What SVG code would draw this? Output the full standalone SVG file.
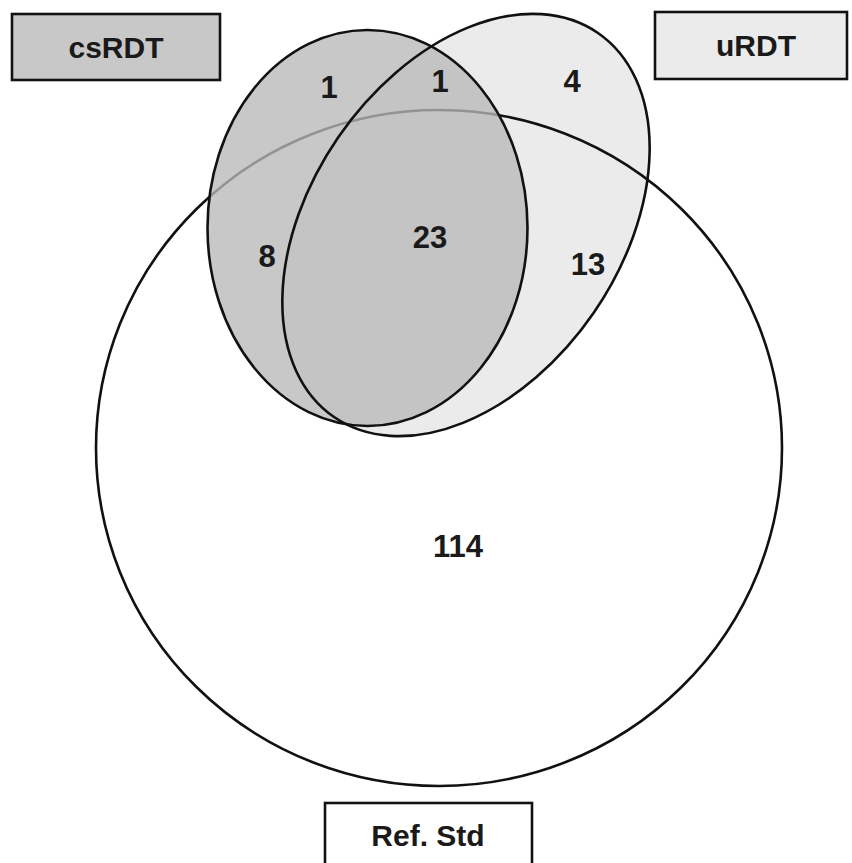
<svg xmlns="http://www.w3.org/2000/svg" width="852" height="863" viewBox="0 0 852 863">
  <style>
    .lbl { font-family: "Liberation Sans", Arial, sans-serif; font-weight: bold; fill: #1a1a1a; text-anchor: middle; }
    .num { font-size: 31px; }
    .tag { font-size: 30px; }
    .edge { fill: none; stroke: #111; stroke-width: 2.6; }
    .box { stroke: #111; stroke-width: 2.6; }
  </style>
  <rect width="852" height="863" fill="#ffffff"/>

  <!-- set regions -->
  <g id="set-urdt">
    <ellipse cx="466" cy="225" rx="155" ry="233" transform="rotate(34.5 466 225)" fill="#ebebeb"/>
  </g>
  <g id="set-refstd">
    <ellipse cx="439" cy="448" rx="343" ry="338" class="edge"/>
  </g>
  <g id="set-csrdt">
    <ellipse cx="367.5" cy="228" rx="160" ry="198" fill="#b9b9b9" fill-opacity="0.78"/>
    <ellipse cx="367.5" cy="228" rx="160" ry="198" class="edge"/>
  </g>
  <g id="set-urdt-outline">
    <ellipse cx="466" cy="225" rx="155" ry="233" transform="rotate(34.5 466 225)" class="edge"/>
  </g>

  <!-- region counts -->
  <g id="counts">
    <text class="lbl num" x="329" y="98">1</text>
    <text class="lbl num" x="440" y="92">1</text>
    <text class="lbl num" x="572" y="92">4</text>
    <text class="lbl num" x="430" y="248">23</text>
    <text class="lbl num" x="267" y="267">8</text>
    <text class="lbl num" x="588" y="275">13</text>
    <text class="lbl num" x="458" y="557">114</text>
  </g>

  <!-- legend boxes -->
  <g id="label-csrdt">
    <rect x="12" y="14" width="208" height="66" fill="#c8c8c8" class="box"/>
    <text class="lbl tag" x="116" y="58">csRDT</text>
  </g>
  <g id="label-urdt">
    <rect x="655" y="12" width="192" height="67" fill="#ebebeb" class="box"/>
    <text class="lbl tag" x="756" y="56">uRDT</text>
  </g>
  <g id="label-refstd">
    <rect x="325" y="803" width="207" height="70" fill="#ffffff" class="box"/>
    <text class="lbl tag" x="428" y="846">Ref. Std</text>
  </g>
</svg>
